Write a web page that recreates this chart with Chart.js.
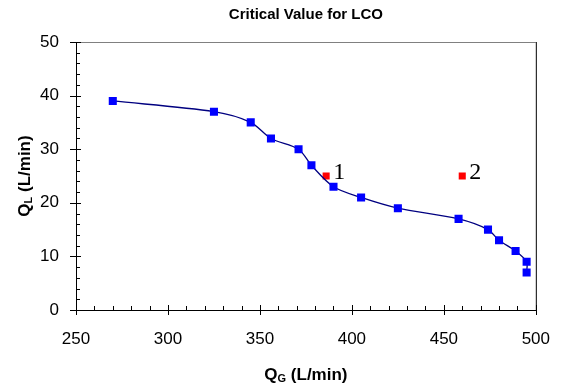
<!DOCTYPE html>
<html>
<head>
<meta charset="utf-8">
<script src="https://cdn.jsdelivr.net/npm/chart.js@4"></script>
<style>
  body { margin: 0; background: #fff; }
  canvas { display: block; }
</style>
</head>
<body>
<canvas id="chart" width="569" height="387"></canvas>
<script>
// values
const blueQG = [270, 325, 345, 356, 371, 378, 390, 405, 425, 458, 474, 480, 489, 495, 495];
const blueQL = [39, 37, 35, 32, 30, 27, 23, 21, 19, 17, 15, 13, 11, 9, 7];
const redQG = [386, 460];
const redQL = [25, 25];
const redLabels = ["1", "2"];
const xTicks = [250, 300, 350, 400, 450, 500];
const yTicks = [0, 10, 20, 30, 40, 50];
const chartTitle = "Critical Value for LCO";

const SANS = "'Liberation Sans', Arial, sans-serif";
const SERIF = "'Liberation Serif', 'Times New Roman', serif";

// draws a label like Q with a subscript letter, centred on (0,0)
function drawSubLabel(ctx, main, sub, rest, size) {
    const bigFont = "bold " + size + "px " + SANS;
    const smallFont = "bold " + Math.round(size * 0.62) + "px " + SANS;
    ctx.font = bigFont;
    const w1 = ctx.measureText(main).width;
    const w3 = ctx.measureText(rest).width;
    ctx.font = smallFont;
    const w2 = ctx.measureText(sub).width;
    let x = -(w1 + w2 + w3) / 2;
    ctx.textAlign = "left";
    ctx.textBaseline = "alphabetic";
    const base = size * 0.36;
    ctx.font = bigFont;
    ctx.fillText(main, x, base);
    x += w1;
    ctx.font = smallFont;
    ctx.fillText(sub, x, base + size * 0.12);
    x += w2;
    ctx.font = bigFont;
    ctx.fillText(rest, x, base);
}

const decor = {
    id: "decor",
    afterDraw(chart) {
        const ctx = chart.ctx;
        const xs = chart.scales.x;
        const ys = chart.scales.y;
        const area = chart.chartArea;
        ctx.save();

        // plot frame: top and right
        ctx.lineWidth = 1;
        ctx.strokeStyle = "#808080";
        ctx.beginPath();
        ctx.moveTo(area.left, area.top + 0.5);
        ctx.lineTo(area.right, area.top + 0.5);
        ctx.stroke();
        ctx.strokeStyle = "#000";
        ctx.beginPath();
        ctx.moveTo(area.right + 0.5, area.top);
        ctx.lineTo(area.right + 0.5, area.bottom);
        ctx.stroke();

        // tick marks
        ctx.strokeStyle = "#000";
        ctx.beginPath();
        for (let v = xs.min; v <= xs.max; v += 10) {
            const px = Math.round(xs.getPixelForValue(v)) + 0.5;
            const major = xTicks.includes(v);
            ctx.moveTo(px, area.bottom + (major ? 5 : 0));
            ctx.lineTo(px, area.bottom - (major ? 5 : 4));
        }
        for (let v = ys.min; v <= ys.max; v += 2) {
            const py = Math.round(ys.getPixelForValue(v)) + 0.5;
            const major = yTicks.includes(v);
            ctx.moveTo(area.left - (major ? 6 : 0), py);
            ctx.lineTo(area.left + (major ? 5 : 4), py);
        }
        ctx.stroke();

        // point labels 1 and 2
        ctx.fillStyle = "#000";
        ctx.font = "24px " + SERIF;
        ctx.textAlign = "left";
        ctx.textBaseline = "alphabetic";
        redLabels.forEach((t, i) => {
            const px = xs.getPixelForValue(redQG[i]);
            const py = ys.getPixelForValue(redQL[i]);
            ctx.fillText(t, px + 7, py + 3);
        });

        // titles
        ctx.font = "bold 15px " + SANS;
        ctx.textAlign = "center";
        ctx.textBaseline = "middle";
        ctx.fillText(chartTitle, (area.left + area.right) / 2, 15);

        ctx.save();
        ctx.translate((area.left + area.right) / 2, 374);
        drawSubLabel(ctx, "Q", "G", " (L/min)", 17);
        ctx.restore();

        ctx.save();
        ctx.translate(24, (area.top + area.bottom) / 2);
        ctx.rotate(-Math.PI / 2);
        drawSubLabel(ctx, "Q", "L", " (L/min)", 17);
        ctx.restore();

        ctx.restore();
    }
};

new Chart(document.getElementById("chart"), {
    type: "scatter",
    data: {
        datasets: [
            {
                label: "curve",
                data: blueQG.map((x, i) => ({ x: x, y: blueQL[i] })),
                showLine: true,
                borderColor: "#000080",
                borderWidth: 1.3,
                tension: 0.3,
                pointStyle: "rect",
                pointRadius: 5.7,
                pointBackgroundColor: "#0000ff",
                pointBorderColor: "#0000ff",
                pointBorderWidth: 0
            },
            {
                label: "critical",
                data: redQG.map((x, i) => ({ x: x, y: redQL[i] })),
                showLine: false,
                pointStyle: "rect",
                pointRadius: 5,
                pointBackgroundColor: "#ff0000",
                pointBorderColor: "#ff0000",
                pointBorderWidth: 0
            }
        ]
    },
    options: {
        responsive: false,
        animation: false,
        layout: { padding: { top: 42, right: 32, left: 0, bottom: 0 } },
        plugins: {
            legend: { display: false },
            tooltip: { enabled: false },
            title: { display: false }
        },
        scales: {
            x: {
                type: "linear",
                min: 250,
                max: 500,
                afterBuildTicks: s => { s.ticks = xTicks.map(v => ({ value: v })); },
                afterFit: s => { s.height = 77; },
                grid: { display: false, drawTicks: false },
                border: { display: true, color: "#000", width: 1 },
                ticks: {
                    padding: 19,
                    color: "#000",
                    font: { family: SANS, size: 17 },
                    maxRotation: 0
                }
            },
            y: {
                type: "linear",
                min: 0,
                max: 50,
                afterBuildTicks: s => { s.ticks = yTicks.map(v => ({ value: v })); },
                afterFit: s => { s.width = 76; },
                grid: { display: false, drawTicks: false },
                border: { display: true, color: "#000", width: 1 },
                ticks: {
                    padding: 17,
                    color: "#000",
                    font: { family: SANS, size: 17 }
                }
            }
        }
    },
    plugins: [decor]
});
</script>
</body>
</html>
